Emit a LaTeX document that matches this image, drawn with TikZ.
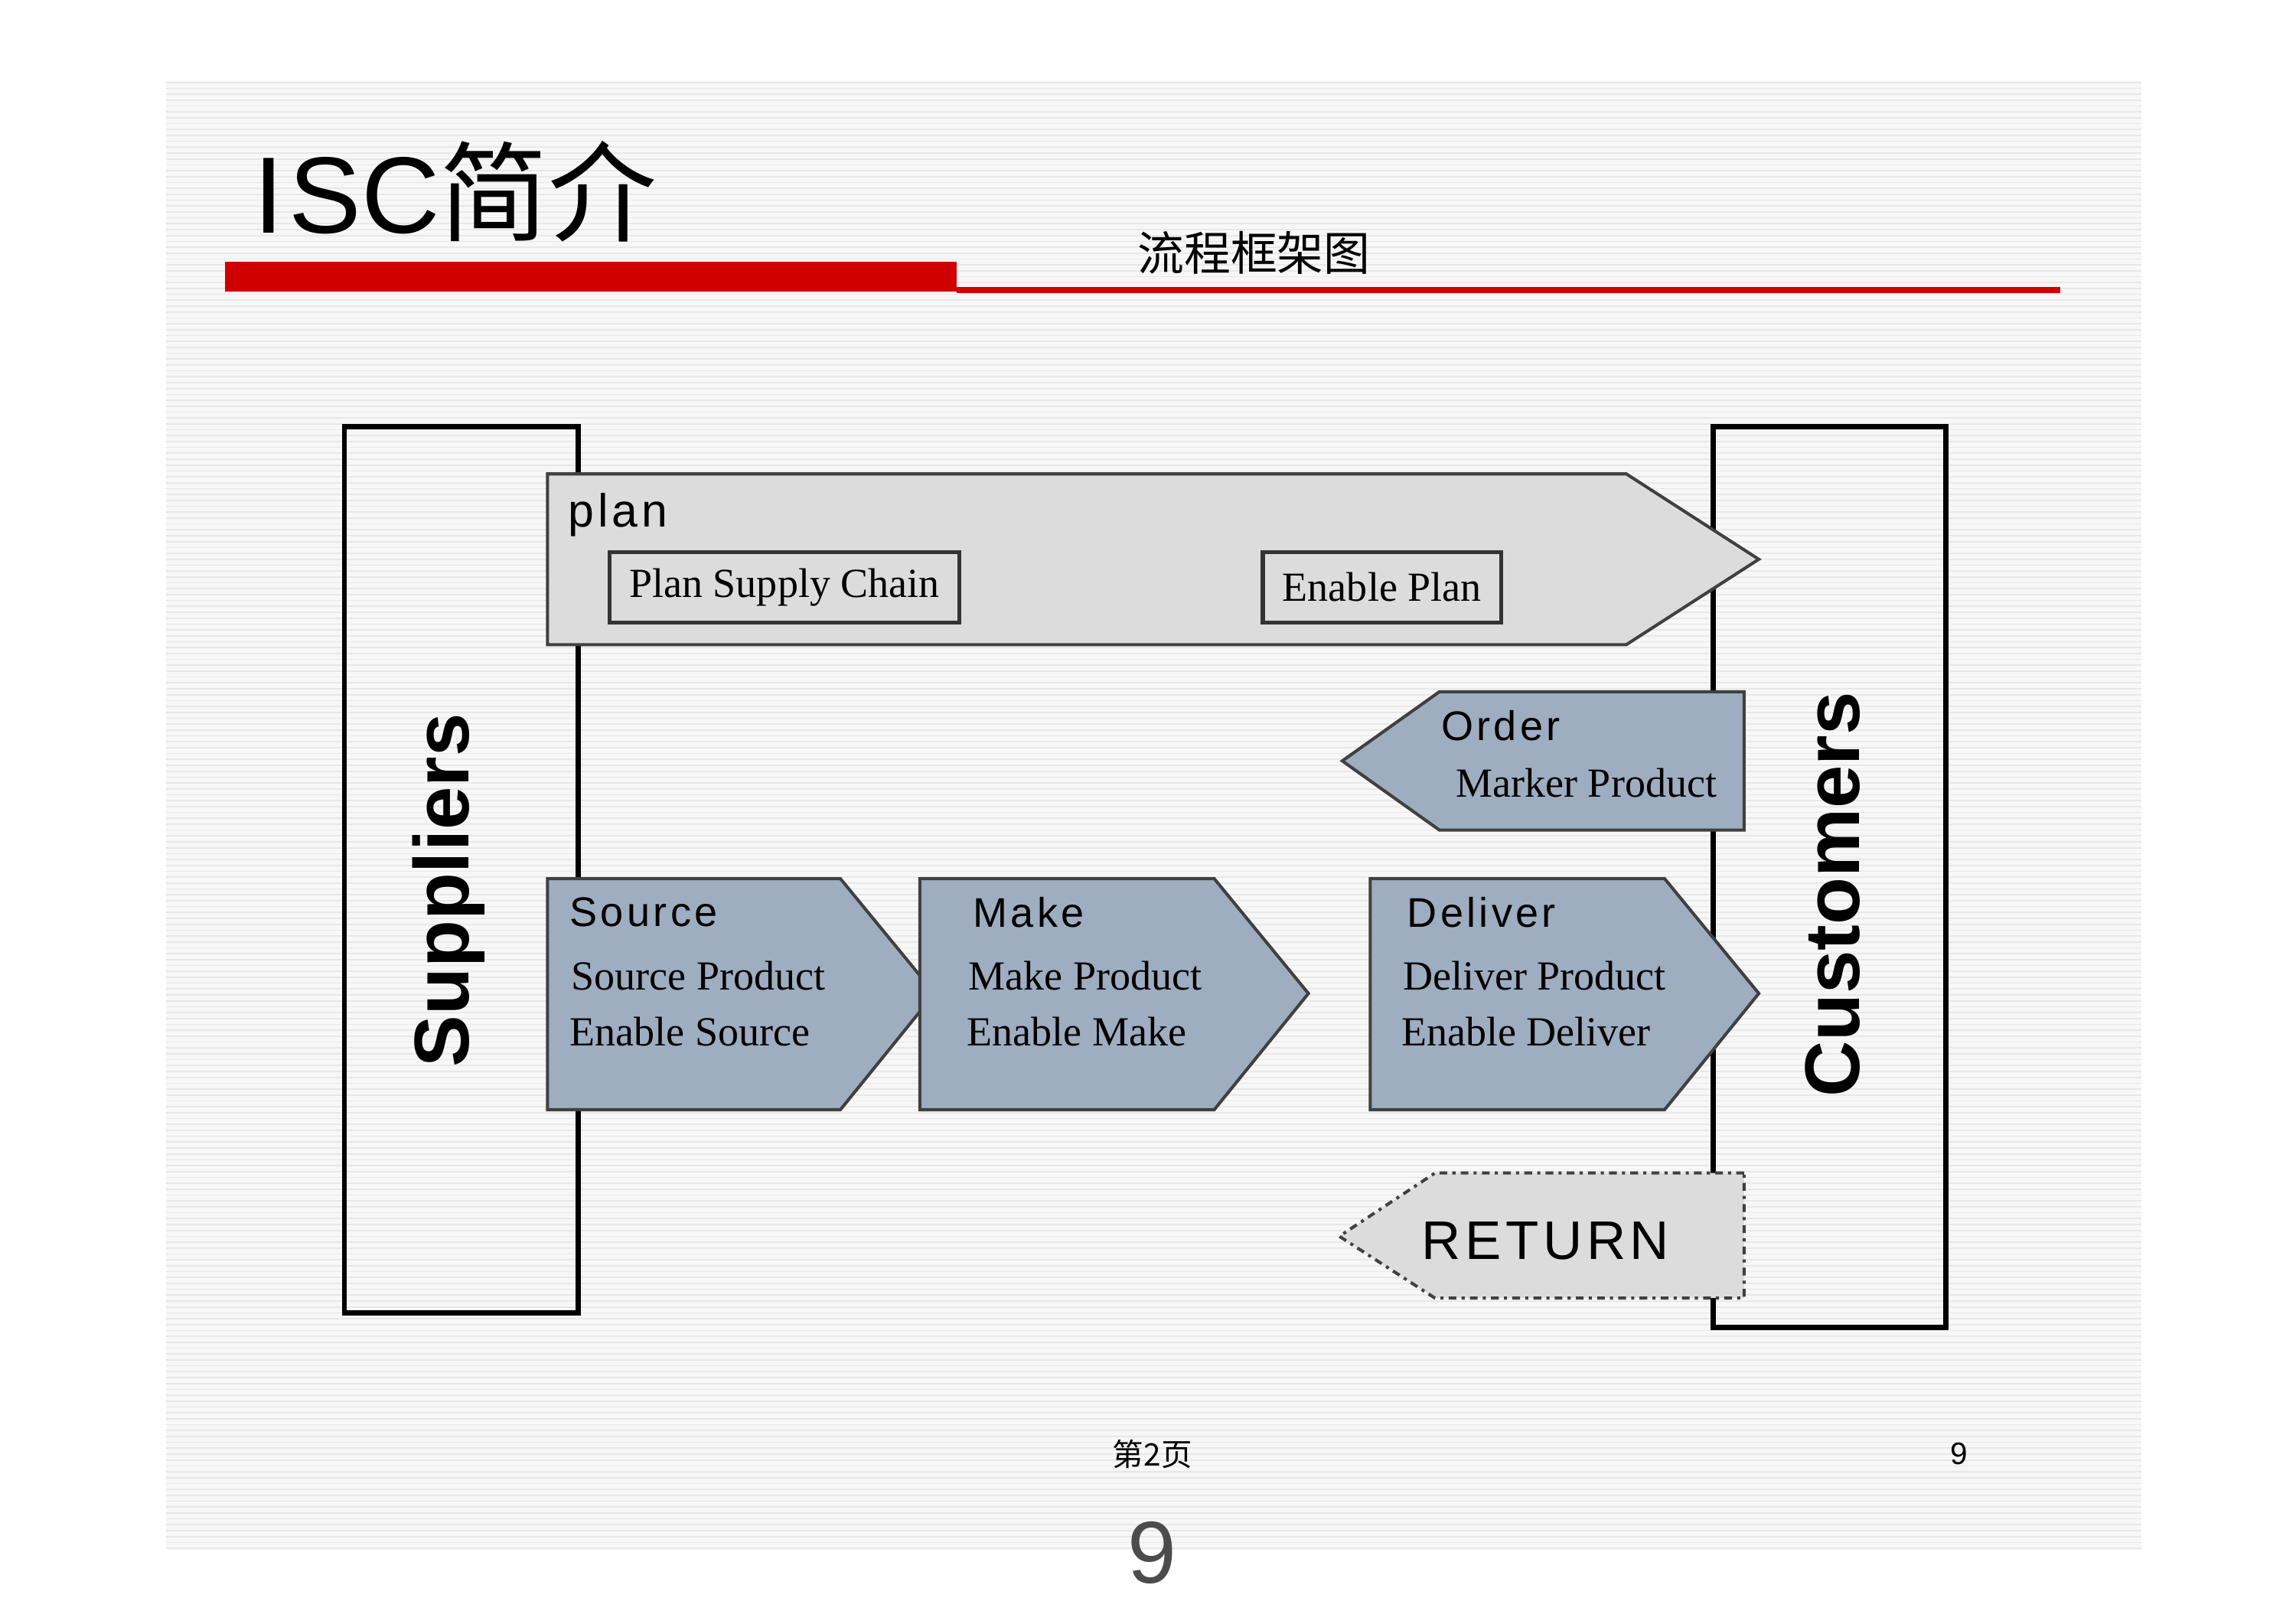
\documentclass[tikz,border=0pt]{standalone}
\usepackage{fontspec}
\setmainfont{Liberation Serif}
\newfontfamily\sans[LetterSpace=8]{Liberation Sans}
\newfontfamily\sansn{Liberation Sans}
\newfontfamily\cjk{Noto Sans CJK SC}
\definecolor{blu}{HTML}{9EADC0}
\definecolor{lg}{HTML}{DCDCDC}
\definecolor{rd}{HTML}{D00000}
\begin{document}
\begin{tikzpicture}[x=0.02cm,y=-0.02cm,
  arr/.style={draw=black!75,line width=1.2pt},
  sl/.style={font=\sans\fontsize{16}{18}\selectfont,anchor=west},
  sr/.style={font=\fontsize{16}{18}\selectfont,anchor=west},
  box/.style={draw=black!80,line width=1.5pt,fill=none},
  side/.style={draw=black,line width=2pt}]
\useasboundingbox (0,0) rectangle (1560,1103);
\fill[white] (0,0) rectangle (1560,1103);
\fill[gray!6] (113,55) rectangle (1455,1053);
\foreach \y in {56,60,...,1052} \draw[gray!18,line width=0.5pt] (113,\y) -- (1455,\y);
% title
\node[anchor=west,inner sep=0] (t) at (172,130) {{\sansn\fontsize{42}{46}\selectfont I\kern2pt SC}{\cjk\fontsize{42}{46}\selectfont 简介}};
\fill[rd] (153,178) rectangle (650,198);
\fill[rd] (650,195) rectangle (1400,199);
\node (st) at (852,172) {\cjk\fontsize{18}{20}\selectfont 流程框架图};
% sides
\draw[side] (234,290) rectangle (393,892);
\node[rotate=90,font=\sansn\bfseries\fontsize{30}{34}\selectfont] (sup) at (305,605) {Suppliers};
\draw[side] (1164,290) rectangle (1322,902);
\node[rotate=90,font=\sansn\bfseries\fontsize{30}{34}\selectfont] (cus) at (1245,608) {Customers};
% plan
\draw[arr,fill=lg] (372,322) -- (1105,322) -- (1195,380) -- (1105,438) -- (372,438) -- cycle;
\node[sl,font=\sans\fontsize{18}{20}\selectfont] (plan) at (380,350) {plan};
\draw[box] (414,375) rectangle (652,423);
\node (psc) at (533,399) {\fontsize{16}{18}\selectfont Plan Supply Chain};
\draw[box] (858,375) rectangle (1020,423);
\node (ep) at (939,399) {\fontsize{16}{18}\selectfont Enable Plan};
% order
\draw[arr,fill=blu] (1185,470) -- (978,470) -- (912,517) -- (978,564) -- (1185,564) -- cycle;
\node[sl] (ord) at (973,493) {Order};
\node[sr] (mp) at (983,532) {Marker Product};
% source make deliver
\draw[arr,fill=blu] (372,597) -- (571,597) -- (635,675) -- (571,754) -- (372,754) -- cycle;
\node[sl] (so) at (381,620) {Source};
\node[sr] (sp) at (382,663) {Source Product};
\node[sr] (es) at (381,701) {Enable Source};
\draw[arr,fill=blu] (625,597) -- (825,597) -- (889,675) -- (825,754) -- (625,754) -- cycle;
\node[sl] (mk) at (655,620) {Make};
\node[sr] (mkp) at (652,663) {Make Product};
\node[sr] (em) at (651,701) {Enable Make};
\draw[arr,fill=blu] (931,597) -- (1131,597) -- (1195,675) -- (1131,754) -- (931,754) -- cycle;
\node[sl] (dl) at (950,620) {Deliver};
\node[sr] (dp) at (947,663) {Deliver Product};
\node[sr] (ed) at (946,701) {Enable Deliver};
% return
\draw[black!75,line width=1.2pt,dash dot,fill=lg] (1185,797) -- (975,797) -- (910,840) -- (975,882) -- (1185,882) -- cycle;
\node[font=\sans\fontsize{21}{24}\selectfont] (ret) at (1050,843) {RETURN};
% footer
\node (pg) at (783,988) {\cjk\fontsize{12}{14}\selectfont 第2页};
\node[font=\sansn\fontsize{12}{14}\selectfont] (n9) at (1331,988) {9};
\node[font=\sansn\fontsize{34}{40}\selectfont,text=black!70] (b9) at (783,1055) {9};
\end{tikzpicture}
\end{document}
